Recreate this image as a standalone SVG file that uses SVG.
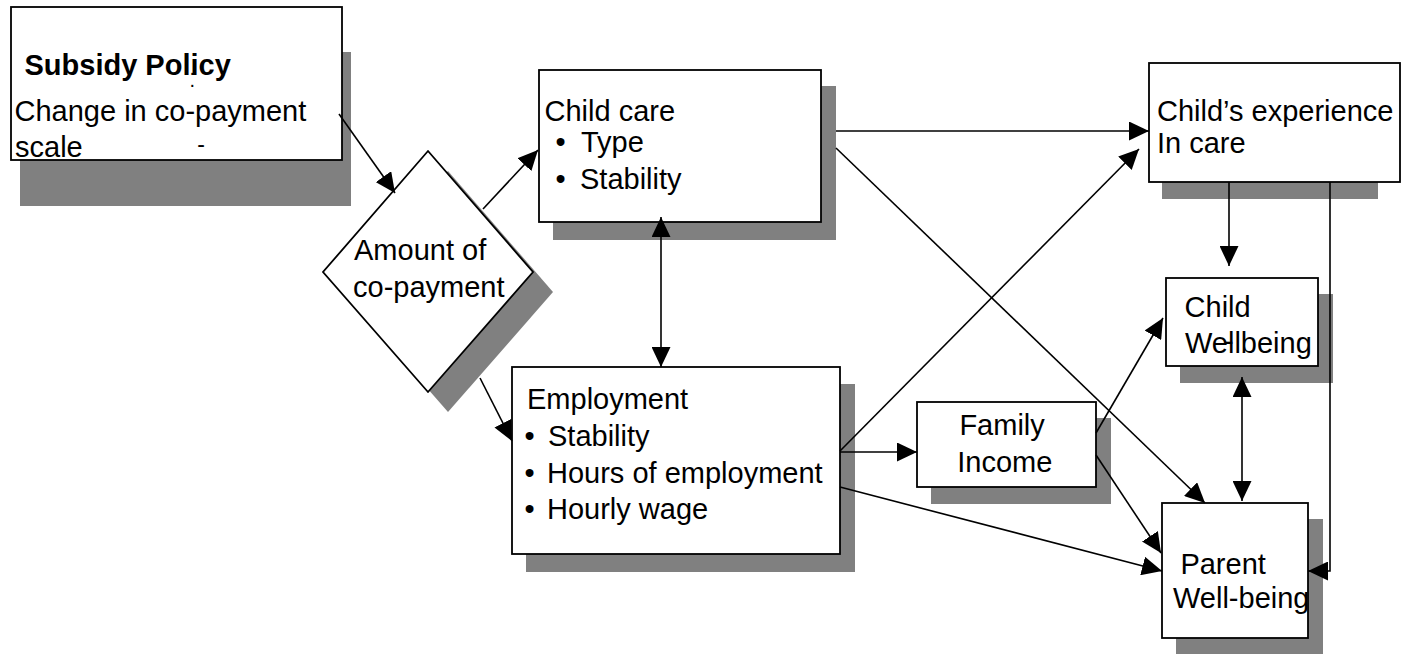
<svg xmlns="http://www.w3.org/2000/svg" width="1406" height="654" viewBox="0 0 1406 654">
<defs>
<marker id="ah" markerUnits="userSpaceOnUse" markerWidth="20" markerHeight="19" refX="20" refY="9.5" orient="auto-start-reverse">
<path d="M0,0 L20,9.5 L0,19 z" fill="#000"/>
</marker>
</defs>
<style>
.sh{fill:#808080;stroke:none}
.bx{fill:#fff;stroke:#000;stroke-width:1.8}
.t{font-family:"Liberation Sans",Arial,sans-serif;font-size:29px;fill:#000}
.b{font-weight:bold}
.c{fill:none;stroke:#000;stroke-width:1.6}
.ar{marker-end:url(#ah)}
.dar{marker-start:url(#ah);marker-end:url(#ah)}
</style>
<rect width="1406" height="654" fill="#fff"/>

<g id="subsidy-policy">
<rect class="sh" x="20" y="52" width="331" height="154"/>
<rect class="bx" x="11" y="7" width="331" height="153"/>
<text class="t b" x="24.5" y="75">Subsidy Policy</text>
<text class="t" x="14.5" y="121">Change in co-payment</text>
<text class="t" x="15" y="157">scale</text>
<text class="t" x="189.5" y="75" style="font-size:20px">.</text>
<text class="t" x="189.5" y="87" style="font-size:20px">.</text>
<text class="t" x="197.3" y="152" style="font-size:23px">-</text>
</g>

<g id="amount-of-copayment">
<polygon class="sh" points="448,171 553,292 448,412 343,292"/>
<polygon class="bx" points="428,151 533,272 428,392 323,272"/>
<text class="t" x="354" y="260">Amount of</text>
<text class="t" x="353" y="297">co-payment</text>
</g>

<g id="child-care">
<rect class="sh" x="553" y="86" width="283" height="154"/>
<rect class="bx" x="539" y="70" width="282" height="152"/>
<text class="t" x="544.5" y="121">Child care</text>
<text class="t" x="555.6" y="152">•</text>
<text class="t" x="581" y="152">Type</text>
<text class="t" x="555.6" y="188.5">•</text>
<text class="t" x="580" y="188.5">Stability</text>
</g>

<g id="employment">
<rect class="sh" x="526" y="384" width="329" height="188"/>
<rect class="bx" x="512" y="367" width="328" height="187"/>
<text class="t" x="527" y="409">Employment</text>
<text class="t" x="524.4" y="446">•</text>
<text class="t" x="548" y="446">Stability</text>
<text class="t" x="524.4" y="482.5">•</text>
<text class="t" x="547" y="482.5">Hours of employment</text>
<text class="t" x="524.4" y="519">•</text>
<text class="t" x="547" y="519">Hourly wage</text>
</g>

<g id="childs-experience">
<rect class="sh" x="1162" y="110" width="216" height="89"/>
<rect class="bx" x="1149" y="63" width="251" height="119"/>
<text class="t" x="1157" y="121">Child’s experience</text>
<text class="t" x="1157" y="153">In care</text>
</g>

<g id="child-wellbeing">
<rect class="sh" x="1180" y="294" width="153" height="89"/>
<rect class="bx" x="1166" y="278" width="152" height="88"/>
<text class="t" x="1184.6" y="317">Child</text>
<text class="t" x="1185" y="352.5">Wellbeing</text>
<text class="t" x="1224" y="351">-</text>
</g>

<g id="family-income">
<rect class="sh" x="931" y="418" width="180" height="86"/>
<rect class="bx" x="917" y="402" width="179" height="85"/>
<text class="t" x="959.4" y="435">Family</text>
<text class="t" x="957.3" y="471.5">Income</text>
</g>

<g id="parent-wellbeing">
<rect class="sh" x="1176" y="519" width="147" height="135"/>
<rect class="bx" x="1162" y="503" width="146" height="135"/>
<text class="t" x="1180.4" y="574">Parent</text>
<text class="t" x="1173" y="608">Well-being</text>
</g>

<g id="connectors">
<line class="c ar" x1="339" y1="114" x2="395" y2="193"/>
<line class="c ar" x1="483" y1="209" x2="538" y2="150"/>
<line class="c dar" x1="661" y1="217" x2="661" y2="367"/>
<line class="c ar" x1="480" y1="378" x2="512" y2="441"/>
<line class="c ar" x1="836" y1="131" x2="1149" y2="131"/>
<line class="c ar" x1="836" y1="148" x2="1205" y2="503"/>
<line class="c ar" x1="840" y1="451" x2="1139" y2="149"/>
<line class="c ar" x1="840" y1="452" x2="917" y2="452"/>
<line class="c ar" x1="840" y1="487" x2="1162" y2="571"/>
<line class="c ar" x1="1096" y1="433" x2="1163" y2="318"/>
<line class="c ar" x1="1096" y1="455" x2="1161" y2="553"/>
<line class="c ar" x1="1229" y1="182" x2="1229" y2="266"/>
<line class="c dar" x1="1242" y1="377" x2="1242" y2="501"/>
<polyline class="c ar" points="1330,182 1330,571 1308,571"/>
</g>
</svg>
